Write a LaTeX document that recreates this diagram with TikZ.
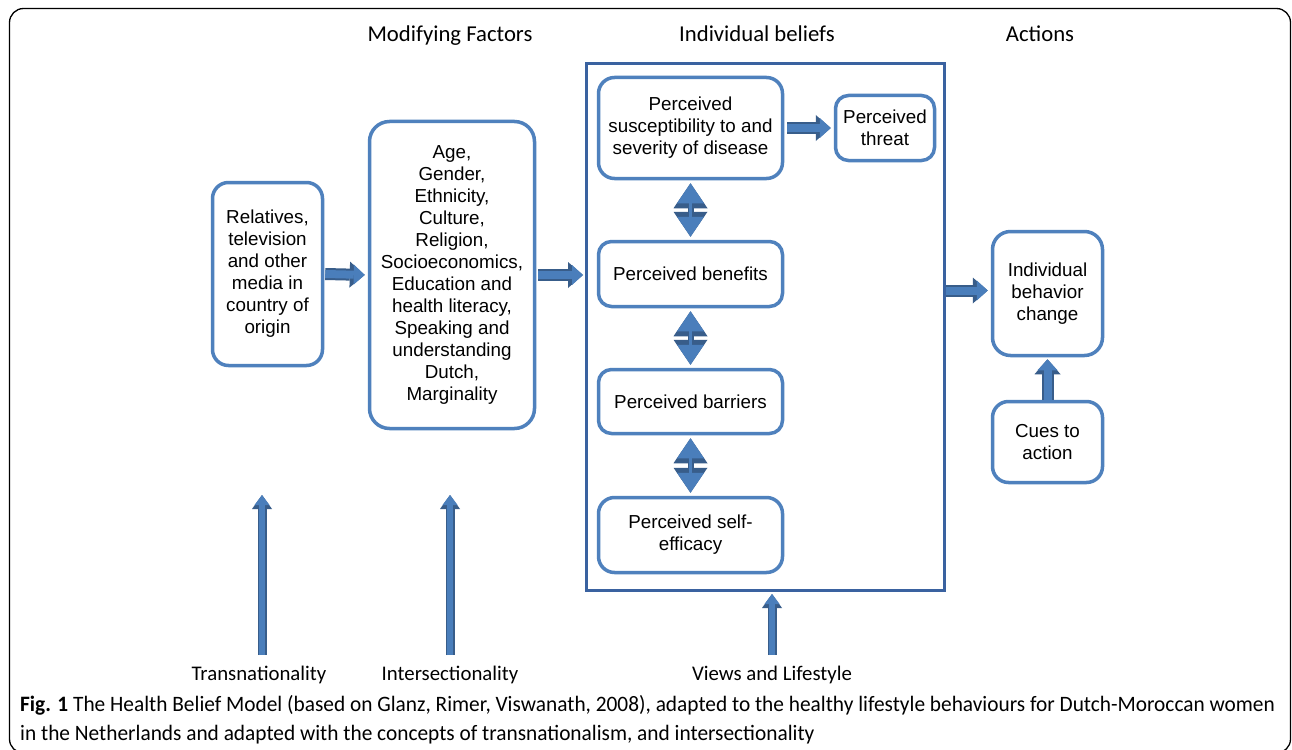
\documentclass[tikz,border=0pt]{standalone}
\usepackage{fontspec}
\setmainfont{Liberation Sans}
\newfontfamily\hdfont{Carlito}
\newfontfamily\lbfont{Carlito}
\newfontfamily\capfont[FakeStretch=0.97]{Carlito}
\usetikzlibrary{arrows.meta}
\definecolor{boxblue}{HTML}{4F81BD}
\definecolor{arrfill}{HTML}{4A7EBB}
\definecolor{arrline}{HTML}{385D8A}
\definecolor{frameblue}{HTML}{3A62A0}
\begin{document}
\begin{tikzpicture}[x=1pt,y=-1pt,
  box/.style={draw=boxblue, line width=3.5pt, rounded corners=16pt, align=center,
    font=\fontsize{18.8}{22}\selectfont, inner sep=0pt},
  hd/.style={font=\hdfont\fontsize{22.7}{26}\selectfont, anchor=base},
  lb/.style={font=\lbfont\fontsize{20.8}{24}\selectfont, anchor=base},
  barrow/.style={preaction={draw=arrline, line width=12pt,
      -{Triangle[length=15pt,width=26pt,line width=0pt]}},
    draw=arrfill, line width=8pt, shorten >=2pt,
    -{Triangle[length=11pt,width=20pt,line width=0pt]}},
  varrow/.style={preaction={draw=arrline, line width=9pt,
      -{Triangle[length=14pt,width=20pt,line width=0pt]}},
    draw=arrfill, line width=5.5pt, shorten >=2pt,
    -{Triangle[length=10pt,width=15pt,line width=0pt]}},
  darrow/.style={preaction={draw=arrline, line width=6pt,
      {Triangle[length=25pt,width=34pt,line width=0pt]}-{Triangle[length=25pt,width=34pt,line width=0pt]}},
    draw=arrfill, line width=2.5pt, shorten >=3pt, shorten <=3pt,
    {Triangle[length=20pt,width=27pt,line width=0pt]}-{Triangle[length=20pt,width=27pt,line width=0pt]}}
]
\useasboundingbox (0,0) rectangle (1292,749);
\fill[white] (0,0) rectangle (1292,749);
\draw[line width=1.3pt, rounded corners=14pt] (9.5,8.5) rectangle (1290.5,753);

% headers
\node[hd] (hmod) at (450,42) {Modifying Factors};
\node[hd] (hind) at (757,42) {Individual beliefs};
\node[hd] (hact) at (1040,42) {Actions};

% boxes
\node[box, minimum width=110pt, minimum height=183pt] (rel) at (267.5,274)
  {Relatives,\\television\\and other\\media in\\country of\\origin};
\node[box, rounded corners=20pt, minimum width=165pt, minimum height=307pt] (age) at (452,275)
  {Age,\\Gender,\\Ethnicity,\\Culture,\\Religion,\\Socioeconomics,\\Education and\\health literacy,\\Speaking and\\understanding\\Dutch,\\Marginality};
\node[draw=frameblue, line width=3pt, minimum width=358pt, minimum height=527pt, inner sep=0pt] (beliefs) at (765.5,327) {};
\node[box, minimum width=184pt, minimum height=101pt] (susc) at (690.5,128)
  {Perceived\\susceptibility to and\\severity of disease};
\node[box, rounded corners=13pt, minimum width=99pt, minimum height=65pt] (threat) at (885,128)
  {Perceived\\threat};
\node[box, rounded corners=13pt, minimum width=184pt, minimum height=65pt] (ben) at (690.5,274)
  {Perceived benefits};
\node[box, rounded corners=13pt, minimum width=184pt, minimum height=64pt] (bar) at (690.5,401.5)
  {Perceived barriers};
\node[box, minimum width=184pt, minimum height=75pt] (self) at (690.5,535)
  {Perceived self-\\efficacy};
\node[box, rounded corners=18pt, minimum width=110pt, minimum height=124pt] (ibc) at (1047.5,293.5)
  {Individual\\behavior\\change};
\node[box, minimum width=110pt, minimum height=81pt] (cues) at (1047.5,442)
  {Cues to\\action};

% bottom labels
\node[lb] (ltrans) at (259,680) {Transnationality};
\node[lb] (linter) at (450,680) {Intersectionality};
\node[lb] (lviews) at (772,680) {Views and Lifestyle};

\coordinate (t1s) at (262,655);
\coordinate (t1e) at (262,493);
\coordinate (t2s) at (450,655);
\coordinate (t2e) at (450,493);
\coordinate (t3s) at (772,655);

% connectors
\draw[barrow] ([xshift=1pt]rel.east) -- ([xshift=-1pt]age.west);
\draw[barrow] ([xshift=2pt]age.east) -- (age.east -| beliefs.west);
\draw[barrow] ([xshift=3pt]susc.east) -- ([xshift=-1pt]threat.west);
\draw[barrow] ([yshift=3pt]beliefs.east |- ibc.west) -- ([xshift=-1pt,yshift=3pt]ibc.west);
\draw[barrow] (cues.north) -- (ibc.south);
\draw[darrow] (susc.south) -- (ben.north);
\draw[darrow] (ben.south) -- (bar.north);
\draw[darrow] (bar.south) -- (self.north);
\draw[varrow] (t1s) -- (t1e);
\draw[varrow] (t2s) -- (t2e);
\draw[varrow] (t3s) -- (t3s |- beliefs.south);

% caption
\node[anchor=base west, inner sep=0pt, font=\capfont\fontsize{22}{26}\selectfont] (cap1) at (20,711)
  {\textbf{Fig. 1} The Health Belief Model (based on Glanz, Rimer, Viswanath, 2008), adapted to the healthy lifestyle behaviours for Dutch-Moroccan women};
\node[anchor=base west, inner sep=0pt, font=\capfont\fontsize{22}{26}\selectfont] (cap2) at (20,740)
  {in the Netherlands and adapted with the concepts of transnationalism, and intersectionality};
\end{tikzpicture}
\end{document}
